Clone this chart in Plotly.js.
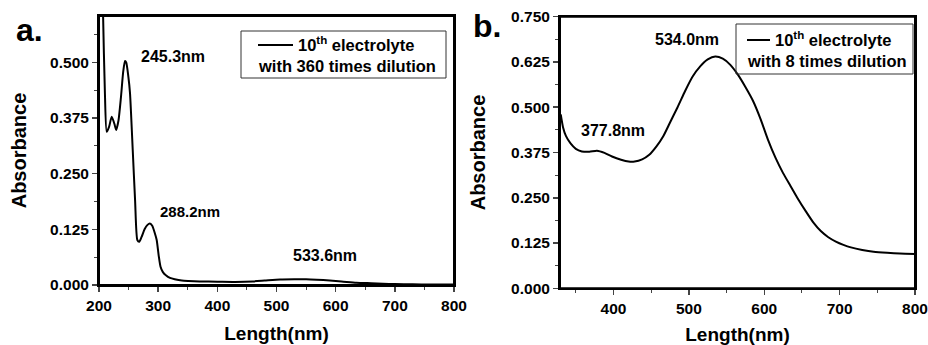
<!DOCTYPE html>
<html><head><meta charset="utf-8">
<script src="https://cdn.plot.ly/plotly-3.0.1.min.js"></script>
<style>html,body{margin:0;padding:0;background:#fff}#c{width:928px;height:345px}</style>
</head><body><div id="c"></div>
<script>
// Panel a: 10th electrolyte, 360 times dilution
const wavelengthA = [203,207,210,213,217,221.5,226,229,233,237,241,244,246,249.6,252.4,254,257,261,264.8,268,272,277,282,286,290,294,297.5,301,304,308,313,320,328,340,351,370,400,430,460,480,506,530,550,568,590,610,635,660,680,700,730,760,800];
const absorbanceA = [0.95,0.6,0.43,0.344,0.355,0.378,0.362,0.348,0.37,0.42,0.48,0.503,0.5,0.468,0.431,0.39,0.303,0.19,0.101,0.097,0.108,0.125,0.135,0.138,0.133,0.118,0.101,0.065,0.041,0.029,0.022,0.016,0.013,0.01,0.009,0.008,0.0075,0.007,0.008,0.01,0.0125,0.013,0.013,0.012,0.01,0.008,0.005,0.004,0.003,0.002,0.0015,0.001,0.001];
// Panel b: 10th electrolyte, 8 times dilution
const wavelengthB = [330,333,337,343,350,358,368,378,388,398,410,420,428,438,447,457,466,475,485,495,505,515,525,535,545,555,565,575,585,595,605,615,625,635,645,655,665,675,685,695,705,715,730,745,763,780,800];
const absorbanceB = [0.48,0.445,0.42,0.40,0.385,0.378,0.377,0.380,0.374,0.364,0.355,0.350,0.350,0.356,0.368,0.392,0.420,0.458,0.500,0.545,0.585,0.613,0.632,0.640,0.634,0.617,0.590,0.556,0.518,0.468,0.41,0.36,0.318,0.282,0.246,0.213,0.182,0.158,0.141,0.129,0.120,0.113,0.106,0.101,0.098,0.096,0.095];
const yTicks = [0,0.125,0.25,0.375,0.5,0.625,0.75];
const peakLabelsA = [{t:'245.3nm',x:325,y:0.512,s:16},{t:'288.2nm',x:354,y:0.166,s:15},{t:'533.6nm',x:582,y:0.067,s:16}];
const peakLabelsB = [{t:'534.0nm',x:497,y:0.686,s:16},{t:'377.8nm',x:399,y:0.437,s:16}];

const W=928,H=345;
const px = v => v/W, py = v => 1 - v/H;
const F = {family:'Liberation Sans, Arial, sans-serif', weight:'bold', color:'#000'};
const fnt = s => Object.assign({}, F, {size:s});

function xax(dom, rng, title, standoff){
  return {domain:dom, range:rng, dtick:100, tick0:0, ticks:'outside', ticklen:5, tickwidth:1.5,
    minor:{dtick:50, tick0:0, ticks:'outside', ticklen:3, tickwidth:1},
    showline:true, linewidth:2, linecolor:'#000', mirror:true, showgrid:false, zeroline:false,
    tickfont:fnt(15.5), title:{text:title, font:fnt(19), standoff:standoff}};
}
function yax(dom, rng, standoff){
  return {domain:dom, range:rng, tickvals:yTicks, tickformat:'.3f', ticks:'outside', ticklen:5, tickwidth:1.5,
    minor:{dtick:0.0625, tick0:0, ticks:'outside', ticklen:3, tickwidth:1},
    showline:true, linewidth:2, linecolor:'#000', mirror:true, showgrid:false, zeroline:false,
    tickfont:fnt(15.5), title:{text:'Absorbance', font:fnt(20), standoff:standoff}};
}

const traces = [
  {x:wavelengthA, y:absorbanceA, type:'scatter', mode:'lines', line:{color:'#000', width:2, shape:'spline', smoothing:0.6}, xaxis:'x', yaxis:'y', showlegend:false},
  {x:wavelengthB, y:absorbanceB, type:'scatter', mode:'lines', line:{color:'#000', width:2, shape:'spline', smoothing:0.6}, xaxis:'x2', yaxis:'y2', showlegend:false}
];

const ann = [];
peakLabelsA.forEach(p=>ann.push({text:p.t, x:p.x, y:p.y, xref:'x', yref:'y', xanchor:'center', yanchor:'middle', showarrow:false, font:fnt(p.s)}));
peakLabelsB.forEach(p=>ann.push({text:p.t, x:p.x, y:p.y, xref:'x2', yref:'y2', xanchor:'center', yanchor:'middle', showarrow:false, font:fnt(p.s)}));
function pAnn(text, x, y, size, xanchor){
  ann.push({text:text, x:px(x), y:py(y), xref:'paper', yref:'paper', xanchor:xanchor||'center', yanchor:'middle', showarrow:false, font:fnt(size)});
}
// panel letters
pAnn('a.', 29, 30, 32);
pAnn('b.', 487, 26, 32);
// legend texts
pAnn('10<sup>th</sup> electrolyte', 296, 44, 16.5, 'left');
pAnn('with 360 times dilution', 256, 66, 16.5, 'left');
pAnn('10<sup>th</sup> electrolyte', 773, 39, 16.5, 'left');
pAnn('with 8 times dilution', 745, 61, 16.5, 'left');

const shapes = [
  {type:'rect', xref:'x domain', yref:'y domain', x0:0, x1:1, y0:0, y1:1, line:{color:'#000', width:2}},
  {type:'rect', xref:'x2 domain', yref:'y2 domain', x0:0, x1:1, y0:0, y1:1, line:{color:'#000', width:2}},
  {type:'rect', xref:'paper', yref:'paper', x0:px(241), x1:px(446), y0:py(31), y1:py(78), line:{color:'#333', width:1}},
  {type:'line', xref:'paper', yref:'paper', x0:px(258), x1:px(293), y0:py(45), y1:py(45), line:{color:'#000', width:2}},
  {type:'rect', xref:'paper', yref:'paper', x0:px(736), x1:px(913), y0:py(24), y1:py(74), line:{color:'#333', width:1}},
  {type:'line', xref:'paper', yref:'paper', x0:px(747), x1:px(770), y0:py(40), y1:py(40), line:{color:'#000', width:2}}
];

const layout = {
  width:W, height:H, margin:{l:0,r:0,t:0,b:0}, paper_bgcolor:'#fff', plot_bgcolor:'#fff',
  font:fnt(15), showlegend:false,
  xaxis: Object.assign(xax([px(99), px(454)], [200,800], 'Length(nm)', 14), {anchor:'y'}),
  yaxis: Object.assign(yax([1-285/H, 1-16/H], [0,0.604], 18), {anchor:'x'}),
  xaxis2: Object.assign(xax([px(560), px(915)], [329,800], 'Length(nm)', 18), {anchor:'y2'}),
  yaxis2: Object.assign(yax([1-288.3/H, 1-16.7/H], [0,0.75], 20), {anchor:'x2'}),
  annotations: ann, shapes: shapes
};
Plotly.newPlot('c', traces, layout, {staticPlot:true, displayModeBar:false});
</script></body></html>
